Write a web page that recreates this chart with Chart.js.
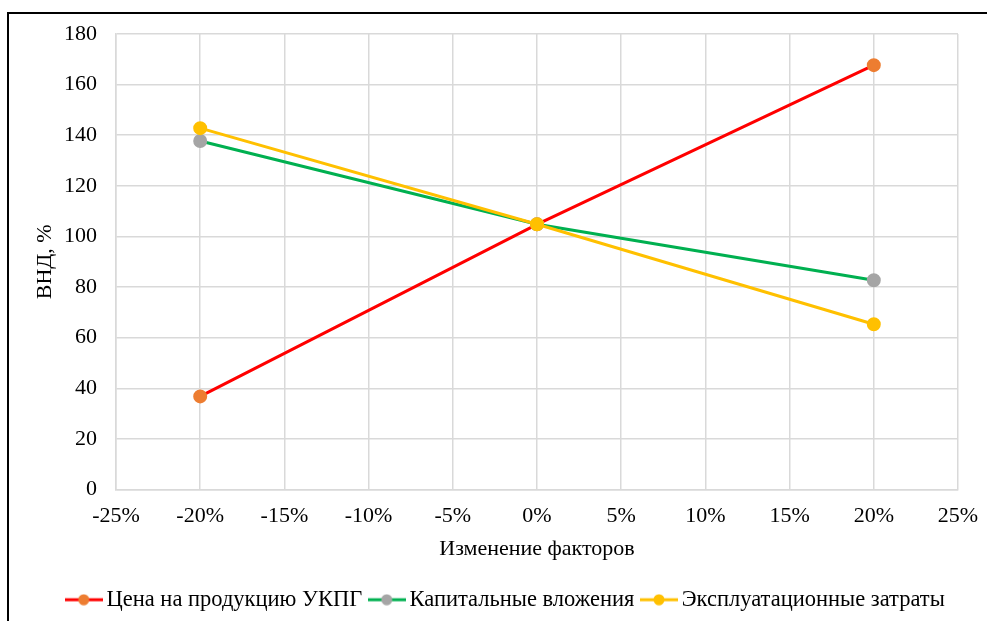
<!DOCTYPE html>
<html lang="ru">
<head>
<meta charset="utf-8">
<title>ВНД: анализ чувствительности</title>
<script src="https://cdn.jsdelivr.net/npm/chart.js@4.4.1/dist/chart.umd.min.js"></script>
<style>
  html, body { margin: 0; padding: 0; background: #fff; overflow: hidden; }
  #frame {
    position: absolute; left: 7px; top: 12px; width: 2000px; height: 2000px;
    border-left: 2px solid #000; border-top: 2px solid #000;
  }
  #wrap { position: absolute; left: 0; top: 0; width: 987px; height: 621px; }
</style>
</head>
<body>
<div id="frame"></div>
<div id="wrap"><canvas id="irrChart"></canvas></div>
<script>
// Изменение факторов, %
const factorChanges = [-20, 0, 20];
// ВНД, % по каждому фактору
const priceIrr = [36.8, 104.8, 167.7];
const capexIrr = [137.7, 104.8, 82.7];
const opexIrr = [142.8, 104.8, 65.3];

const xTicks = [-25, -20, -15, -10, -5, 0, 5, 10, 15, 20, 25];
const yTicks = [0, 20, 40, 60, 80, 100, 120, 140, 160, 180];

const seriesNames = ['Цена на продукцию УКПГ', 'Капитальные вложения', 'Эксплуатационные затраты'];
const lineColors = ['#ff0000', '#00b050', '#ffc000'];
const markerColors = ['#ed7d31', '#a5a5a5', '#ffc000'];

const FONT = 'Liberation Serif, Times New Roman, serif';

// Legend marker: a short line with a dot in the middle
function legendMarker(lineColor, dotColor) {
    const c = document.createElement('canvas');
    c.width = 38;
    c.height = 12;
    const ctx = c.getContext('2d');
    ctx.strokeStyle = lineColor;
    ctx.lineWidth = 3;
    ctx.beginPath();
    ctx.moveTo(0, 6);
    ctx.lineTo(38, 6);
    ctx.stroke();
    ctx.fillStyle = dotColor;
    ctx.beginPath();
    ctx.arc(19, 6, 5.5, 0, Math.PI * 2);
    ctx.fill();
    return c;
}

function makeSeries(values, i) {
    return {
        label: seriesNames[i],
        data: factorChanges.map((x, k) => ({ x: x, y: values[k] })),
        borderColor: lineColors[i],
        backgroundColor: markerColors[i],
        pointBackgroundColor: markerColors[i],
        pointBorderColor: markerColors[i],
        borderWidth: 3,
        pointRadius: 5.5,
        pointHoverRadius: 5.5,
        tension: 0,
        order: 3 - i
    };
}

const ctx = document.getElementById('irrChart').getContext('2d');

new Chart(ctx, {
    type: 'line',
    data: {
        datasets: [makeSeries(priceIrr, 0), makeSeries(capexIrr, 1), makeSeries(opexIrr, 2)]
    },
    options: {
        responsive: true,
        maintainAspectRatio: false,
        animation: false,
        layout: { padding: { top: 34, left: 30, right: 0, bottom: 0 } },
        plugins: {
            tooltip: { enabled: false },
            legend: {
                position: 'bottom',
                labels: {
                    usePointStyle: true,
                    pointStyleWidth: 23,
                    padding: 13,
                    color: '#000',
                    font: { family: FONT, size: 22.5 },
                    generateLabels(chart) {
                        return chart.data.datasets.map((ds, i) => ({
                            text: ds.label,
                            pointStyle: legendMarker(lineColors[i], markerColors[i]),
                            fillStyle: markerColors[i],
                            strokeStyle: lineColors[i],
                            lineWidth: 0,
                            fontColor: '#000',
                            hidden: false,
                            datasetIndex: i
                        }));
                    }
                }
            }
        },
        scales: {
            x: {
                type: 'linear',
                min: -25,
                max: 25,
                afterBuildTicks(scale) {
                    scale.ticks = xTicks.map(v => ({ value: v }));
                },
                afterFit(scale) {
                    scale.height = 86;
                    // edge labels may overhang; the side boxes give the room
                    scale.paddingLeft = 0;
                    scale.paddingRight = 0;
                },
                grid: { color: '#d9d9d9', lineWidth: 1.5, drawTicks: false },
                border: { color: '#d9d9d9', width: 1.5 },
                ticks: {
                    padding: 14,
                    color: '#000',
                    maxRotation: 0,
                    font: { family: FONT, size: 22 },
                    callback: v => v + '%'
                },
                title: {
                    display: true,
                    text: 'Изменение факторов',
                    color: '#000',
                    font: { family: FONT, size: 22 },
                    padding: { top: 0, bottom: 13 }
                }
            },
            y: {
                min: 0,
                max: 180,
                afterBuildTicks(scale) {
                    scale.ticks = yTicks.map(v => ({ value: v }));
                },
                afterFit(scale) { scale.width = 86; },
                grid: { color: '#d9d9d9', lineWidth: 1.5, drawTicks: false },
                border: { color: '#d9d9d9', width: 1.5 },
                ticks: {
                    padding: 19,
                    color: '#000',
                    font: { family: FONT, size: 22 }
                },
                title: {
                    display: true,
                    text: 'ВНД, %',
                    color: '#000',
                    font: { family: FONT, size: 22 },
                    padding: { top: 2, bottom: 0 }
                }
            },
            // empty right-hand axis keeps the plot clear of the right edge
            yRight: {
                position: 'right',
                display: true,
                grid: { display: false, drawTicks: false },
                border: { display: false },
                ticks: { display: false },
                afterFit(scale) { scale.width = 29; }
            }
        }
    }
});
</script>
</body>
</html>
